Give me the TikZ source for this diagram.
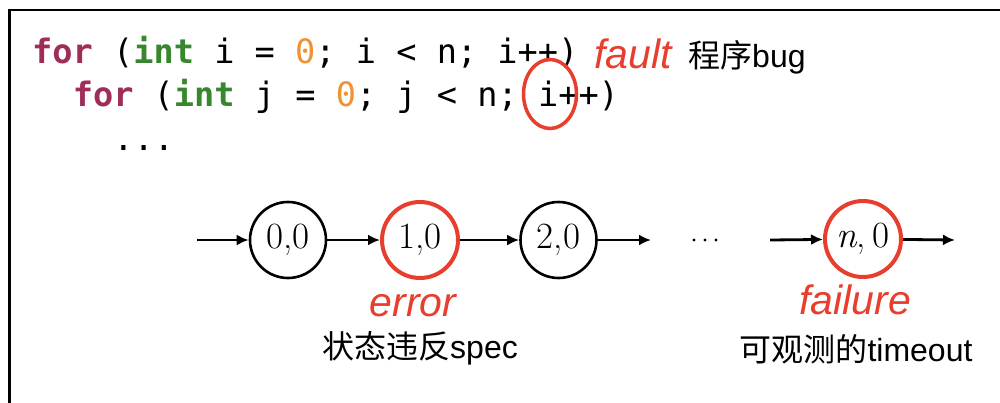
\documentclass[tikz,border=0pt]{standalone}
\usepackage{fontspec}
\setmonofont{DejaVu Sans Mono}
\newfontfamily\sansf{Liberation Sans}
\newfontfamily\cjk{Noto Sans CJK SC}
\usetikzlibrary{arrows.meta,shapes.geometric}

\definecolor{kwcol}{RGB}{158,45,90}
\definecolor{typecol}{RGB}{56,134,46}
\definecolor{numcol}{RGB}{240,146,52}
\definecolor{hired}{RGB}{232,62,45}

\tikzset{
  codeline/.style={anchor=base west, inner sep=0pt,
    font=\fontsize{33.6}{40}\selectfont\ttfamily},
  state/.style={circle, draw=black, line width=2.6pt, minimum size=76pt,
    inner sep=0pt, font=\fontsize{37}{42}\selectfont},
  badstate/.style={state, draw=hired, line width=4pt},
  redlabel/.style={anchor=base, inner sep=0pt, text=hired,
    font=\fontsize{41}{46}\selectfont\sansf\itshape},
  note/.style={anchor=base, inner sep=0pt,
    font=\fontsize{32}{38}\selectfont\sansf},
  flow/.style={line width=2.8pt, -{Latex[length=12pt,width=11pt]}},
}
\newcommand{\kw}[1]{\textcolor{kwcol}{\bfseries #1}}
\newcommand{\ty}[1]{\textcolor{typecol}{\bfseries #1}}
\newcommand{\nm}[1]{\textcolor{numcol}{#1}}

\begin{document}
\begin{tikzpicture}[x=1pt, y=-1pt]
  \useasboundingbox (0,0) rectangle (1000,402);
  \fill[white] (0,0) rectangle (1000,402);

  % frame: top and left edges only
  \draw[line width=2.5pt, line cap=rect] (1000,10) -- (9.5,10) -- (9.5,402);

  % source code
  \node[codeline] (l1) at (32,63)
    {\kw{for} (\ty{int} i = \nm{0}; i < n; i++)};
  \node[codeline] (l2) at (72.6,106)
    {\kw{for} (\ty{int} j = \nm{0}; j < n; i++)};
  \node[codeline] (l3) at (113.2,150) {...};

  % the faulty increment
  \node[ellipse, draw=hired, line width=3.5pt, minimum width=53pt,
        minimum height=69pt, inner sep=0pt] (bug) at (550,94) {};

  \node[redlabel, anchor=base west] (fault) at (594,68) {fault};
  \node[note, anchor=base west] (faultnote) at (688,67) {{\cjk 程序}bug};

  % execution states
  \node[state]    (s0) at (288,240) {0,0};
  \node[badstate] (s1) at (420,240) {1,0};
  \node[state]    (s2) at (558.5,240) {2,0};
  \node[badstate] (sn) at (863,239) {{\itshape n},\,0};

  % ellipsis between the visible states
  \node[inner sep=0pt, minimum width=26pt, minimum height=4pt] (dots) at (705,240) {};
  \foreach \dx in {-11,0,11}
    \fill ([xshift=\dx pt]dots.center) circle (1.6pt);

  \coordinate (in0) at (197,240);
  \coordinate (out2) at (651,240);
  \coordinate (inn) at (770,240);
  \coordinate (outn) at (955,240);

  \draw[flow] (in0) -- (s0);
  \draw[flow] (s0) -- (s1);
  \draw[flow] (s1) -- (s2);
  \draw[flow] (s2) -- (out2);
  \draw[flow] (inn) -- (sn);
  \draw[flow] (sn) -- (outn);

  % labels
  \node[redlabel] (err) at (413,316) {error};
  \node[redlabel] (fail) at (855,314) {failure};
  \node[note] (errnote) at (420,358) {{\cjk 状态违反}spec};
  \node[note] (failnote) at (856,361) {{\cjk 可观测的}timeout};
\end{tikzpicture}
\end{document}
